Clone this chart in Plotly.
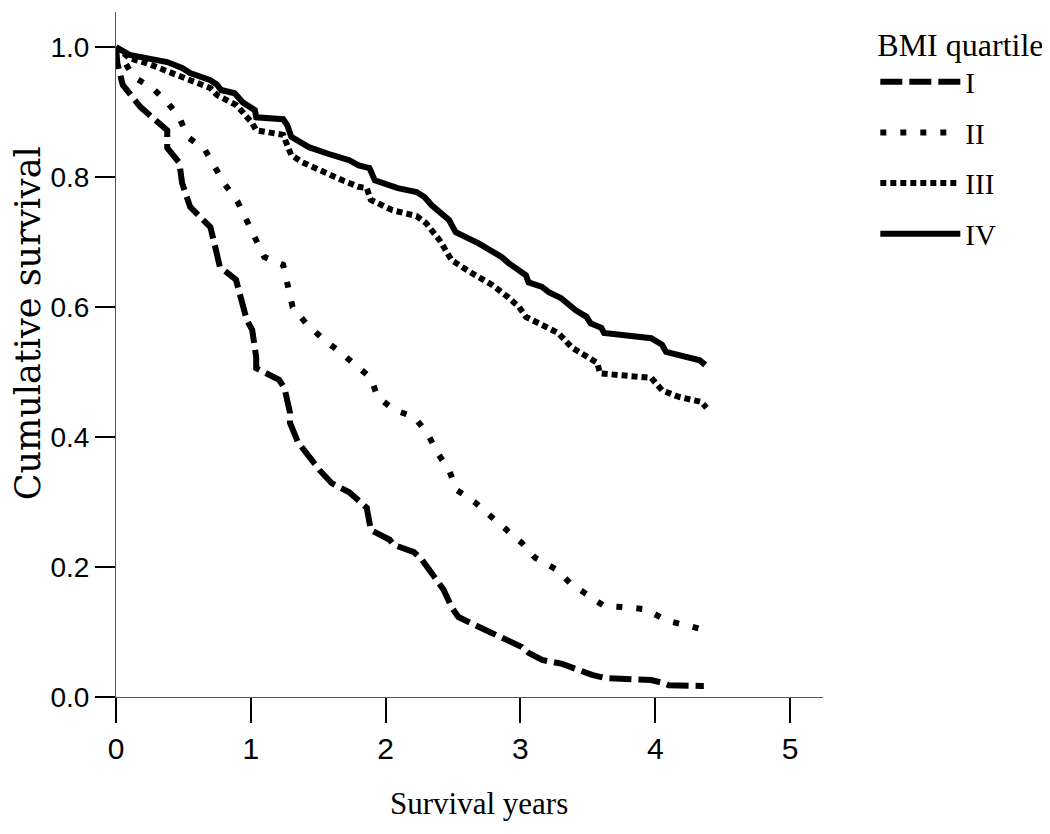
import plotly.graph_objects as go

# Kaplan-Meier curves (years, cumulative survival)
q1_years = [0, 0.01, 0.05, 0.18, 0.38, 0.38, 0.47, 0.49, 0.55, 0.70, 0.73, 0.77, 0.89, 0.90,
            0.97, 1.01, 1.04, 1.04, 1.21, 1.25, 1.29, 1.29, 1.35, 1.51, 1.60, 1.73, 1.80,
            1.86, 1.89, 2.03, 2.06, 2.21, 2.27, 2.34, 2.43, 2.49, 2.54, 2.74, 2.86, 3.01,
            3.06, 3.16, 3.31, 3.43, 3.53, 3.63, 3.97, 4.05, 4.10, 4.34, 4.36]
q1_surv = [1.0, 0.975, 0.942, 0.908, 0.872, 0.845, 0.822, 0.791, 0.754, 0.723, 0.698, 0.662,
           0.642, 0.634, 0.58, 0.565, 0.523, 0.506, 0.488, 0.475, 0.438, 0.422, 0.392, 0.349,
           0.329, 0.315, 0.303, 0.291, 0.257, 0.242, 0.234, 0.223, 0.211, 0.191, 0.165, 0.138,
           0.123, 0.103, 0.092, 0.077, 0.068, 0.057, 0.051, 0.042, 0.034, 0.029, 0.026, 0.022,
           0.018, 0.017, 0.017]

q2_years = [0, 0.13, 0.27, 0.38, 0.47, 0.53, 0.66, 0.74, 0.81, 0.90, 0.97, 1.03, 1.10, 1.24,
            1.27, 1.31, 1.41, 1.53, 1.66, 1.78, 1.89, 1.94, 2.06, 2.21, 2.31, 2.38, 2.47,
            2.53, 2.66, 2.78, 2.89, 3.01, 3.11, 3.26, 3.37, 3.49, 3.62, 3.78, 3.93, 4.08,
            4.23, 4.37]
q2_surv = [1.0, 0.954, 0.937, 0.915, 0.892, 0.862, 0.842, 0.814, 0.788, 0.763, 0.732, 0.703,
           0.677, 0.665, 0.632, 0.60, 0.575, 0.552, 0.531, 0.511, 0.491, 0.462, 0.442, 0.431,
           0.406, 0.377, 0.349, 0.318, 0.30, 0.278, 0.257, 0.237, 0.214, 0.197, 0.175, 0.157,
           0.14, 0.138, 0.135, 0.118, 0.111, 0.103]

q3_years = [0, 0.10, 0.23, 0.36, 0.49, 0.61, 0.70, 0.75, 0.82, 0.89, 0.94, 1.01, 1.04, 1.24,
            1.27, 1.30, 1.38, 1.53, 1.68, 1.80, 1.86, 1.89, 2.05, 2.23, 2.30, 2.40, 2.49,
            2.64, 2.79, 2.91, 2.99, 3.04, 3.14, 3.28, 3.38, 3.48, 3.57, 3.59, 3.97, 4.05,
            4.17, 4.34, 4.38]
q3_surv = [1.0, 0.983, 0.975, 0.965, 0.954, 0.945, 0.937, 0.926, 0.918, 0.911, 0.90, 0.883,
           0.872, 0.865, 0.849, 0.834, 0.823, 0.808, 0.795, 0.785, 0.783, 0.765, 0.749, 0.74,
           0.729, 0.703, 0.672, 0.652, 0.634, 0.615, 0.60, 0.585, 0.575, 0.56, 0.538, 0.526,
           0.514, 0.498, 0.491, 0.472, 0.462, 0.454, 0.445]

q4_years = [0, 0.10, 0.38, 0.49, 0.55, 0.70, 0.75, 0.78, 0.88, 0.94, 1.03, 1.04, 1.24, 1.27,
            1.30, 1.43, 1.60, 1.73, 1.80, 1.88, 1.92, 2.05, 2.09, 2.23, 2.29, 2.34, 2.47,
            2.52, 2.69, 2.86, 2.91, 3.04, 3.06, 3.16, 3.21, 3.30, 3.41, 3.49, 3.52, 3.60,
            3.62, 3.97, 4.05, 4.08, 4.17, 4.33, 4.37]
q4_surv = [1.0, 0.988, 0.977, 0.968, 0.96, 0.949, 0.942, 0.934, 0.929, 0.915, 0.903, 0.892,
           0.889, 0.88, 0.862, 0.846, 0.834, 0.826, 0.818, 0.814, 0.795, 0.786, 0.783, 0.777,
           0.769, 0.757, 0.734, 0.715, 0.698, 0.677, 0.668, 0.649, 0.638, 0.631, 0.623, 0.614,
           0.595, 0.585, 0.575, 0.568, 0.56, 0.552, 0.542, 0.531, 0.526, 0.518, 0.511]

quartiles = ["I", "II", "III", "IV"]
dashes = ["22px,7px", "6px,14px", "6px,4px", "solid"]
x_ticks = [0, 1, 2, 3, 4, 5]
y_ticks = [0.0, 0.2, 0.4, 0.6, 0.8, 1.0]

SERIF = "Liberation Serif, Times New Roman, serif"
SANS = "Liberation Sans, Arial, sans-serif"

fig = go.Figure()
series = [(q1_years, q1_surv), (q2_years, q2_surv), (q3_years, q3_surv), (q4_years, q4_surv)]
for name, dash, (xs, ys) in zip(quartiles, dashes, series):
    fig.add_trace(go.Scatter(
        x=xs, y=ys, mode="lines", name=name, legendgroup=name,
        line=dict(color="black", width=6, dash=dash),
    ))

# page body adds an 8px margin, so the figure is drawn 8px smaller
fig.update_layout(
    width=1042, height=826,
    margin=dict(l=108, r=225, t=4, b=137),
    plot_bgcolor="white", paper_bgcolor="white",
    showlegend=True,
    legend=dict(
        title=dict(text="BMI quartile", font=dict(family=SERIF, size=32, color="black")),
        font=dict(family=SERIF, size=29, color="black"),
        x=1.074, y=0.996, xanchor="left", yanchor="top",
        itemwidth=80, tracegroupgap=10, bgcolor="rgba(0,0,0,0)",
    ),
)
fig.add_annotation(
    text="Cumulative survival", textangle=-90, showarrow=False,
    xref="paper", yref="paper", x=-0.124, y=0.546, xanchor="center", yanchor="middle",
    font=dict(family="DejaVu Serif, serif", size=35, color="black"),
)
fig.add_annotation(
    text="Survival years", showarrow=False,
    xref="paper", yref="paper", x=0.513, y=-0.155, xanchor="center", yanchor="middle",
    font=dict(family=SERIF, size=31, color="black"),
)
fig.update_xaxes(
    range=[0, 5.244], tickvals=x_ticks, ticktext=[str(v) for v in x_ticks],
    showline=True, linecolor="#555", linewidth=1,
    ticks="outside", ticklen=25, tickcolor="black", tickwidth=1.5,
    showgrid=False, zeroline=False, automargin=False,
    tickfont=dict(family=SANS, size=30, color="black"),
)
fig.update_yaxes(
    range=[0, 1.054], tickvals=y_ticks, ticktext=[f"{v:.1f}" for v in y_ticks],
    showline=True, linecolor="#555", linewidth=1,
    ticks="outside", ticklen=20, tickcolor="black", tickwidth=1.5,
    showgrid=False, zeroline=False, automargin=False,
    tickfont=dict(family=SANS, size=28, color="black"),
)

fig.write_html("out.html")
